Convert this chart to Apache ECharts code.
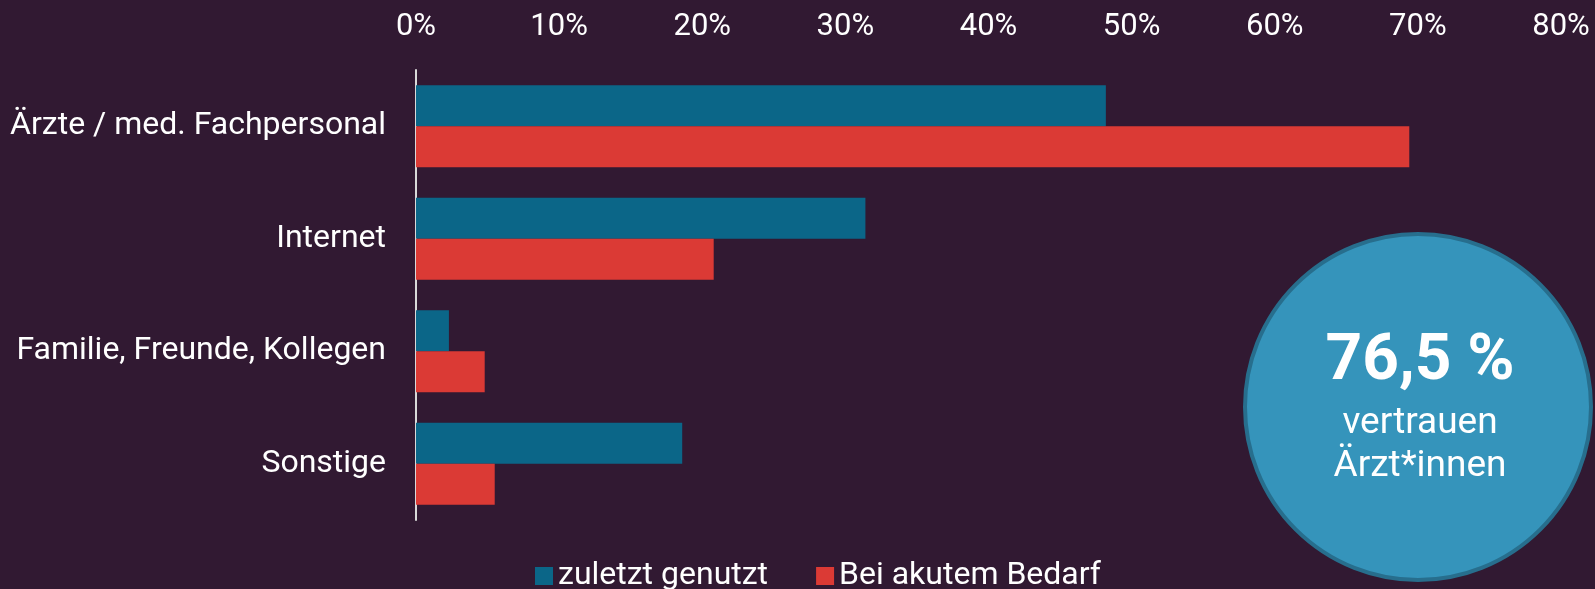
<!DOCTYPE html>
<html>
<head>
<meta charset="utf-8">
<script src="https://cdn.jsdelivr.net/npm/echarts@6/dist/echarts.min.js"></script>
<style>
html, body { margin: 0; padding: 0; background: #311932; }
#chart { width: 1595px; height: 589px; }
</style>
</head>
<body>
<div id="chart"></div>
<script>
var categories = ['Ärzte / med. Fachpersonal', 'Internet', 'Familie, Freunde, Kollegen', 'Sonstige'];
var seriesNames = ['zuletzt genutzt', 'Bei akutem Bedarf'];
var zuletzt = [48.2, 31.4, 2.3, 18.6];
var akut = [69.4, 20.8, 4.8, 5.5];
var xTicks = [0, 10, 20, 30, 40, 50, 60, 70, 80];
var badgeValue = '76,5 %';
var badgeLines = ['vertrauen', 'Ärzt*innen'];

var myChart = echarts.init(document.getElementById('chart'));

var option = {
    backgroundColor: '#311932',
    textStyle: { fontFamily: 'Roboto' },
    grid: { left: 416, right: 34, top: 70, bottom: 69 },
    legend: {
        left: 530,
        top: 555,
        itemWidth: 18,
        itemHeight: 18,
        itemGap: 48,
        icon: 'rect',
        textStyle: { color: '#fff', fontSize: 32, fontFamily: 'Roboto' },
        data: seriesNames
    },
    xAxis: {
        type: 'value',
        position: 'top',
        min: xTicks[0],
        max: xTicks[xTicks.length - 1],
        interval: 10,
        axisLine: { show: false },
        axisTick: { show: false },
        splitLine: { show: false },
        axisLabel: {
            color: '#fff',
            fontSize: 31,
            margin: 27,
            formatter: '{value}%'
        }
    },
    yAxis: {
        type: 'category',
        inverse: true,
        data: categories,
        axisLine: { show: true, lineStyle: { color: '#d9d9d9', width: 2 } },
        axisTick: { show: false },
        axisLabel: { color: '#fff', fontSize: 32, margin: 30 }
    },
    series: [
        {
            name: seriesNames[0],
            type: 'bar',
            data: zuletzt,
            barGap: '0%',
            barCategoryGap: '27%',
            itemStyle: { color: '#0b6688' }
        },
        {
            name: seriesNames[1],
            type: 'bar',
            data: akut,
            itemStyle: { color: '#db3a35' }
        }
    ],
    graphic: [
        {
            type: 'circle',
            shape: { cx: 1418, cy: 407, r: 173 },
            style: { fill: '#3594bb', stroke: '#276e8d', lineWidth: 4 },
            z: 10
        },
        {
            type: 'text',
            x: 1420, y: 363,
            style: {
                text: badgeValue,
                fill: '#fff',
                font: 'bold 64px Roboto',
                align: 'center',
                verticalAlign: 'middle'
            },
            z: 11
        },
        {
            type: 'text',
            x: 1420, y: 424,
            style: {
                text: badgeLines[0],
                fill: '#fff',
                font: '37px Roboto',
                align: 'center',
                verticalAlign: 'middle'
            },
            z: 11
        },
        {
            type: 'text',
            x: 1420, y: 467,
            style: {
                text: badgeLines[1],
                fill: '#fff',
                font: '37px Roboto',
                align: 'center',
                verticalAlign: 'middle'
            },
            z: 11
        }
    ]
};

myChart.setOption(option);
</script>
</body>
</html>
